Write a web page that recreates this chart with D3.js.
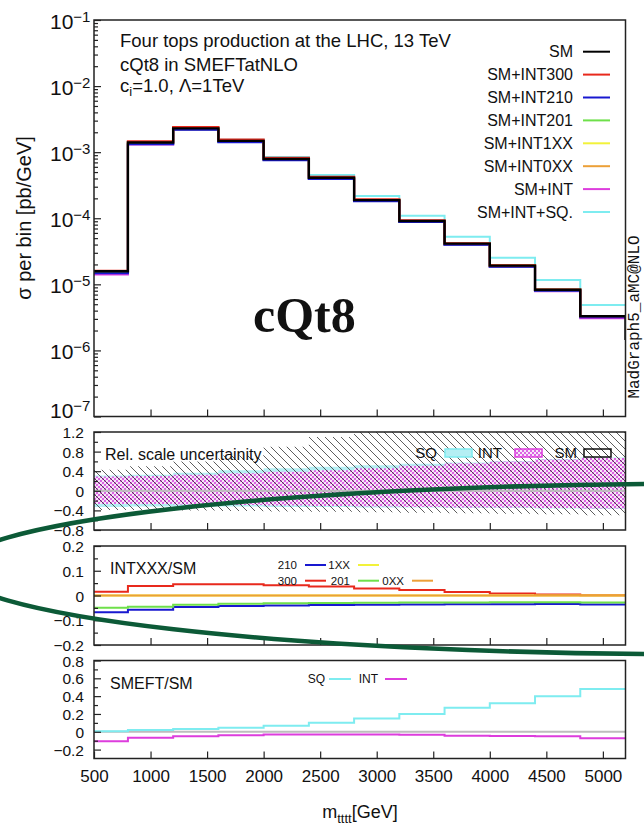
<!DOCTYPE html>
<html><head><meta charset="utf-8">
<script src="https://cdn.jsdelivr.net/npm/d3@7"></script>
<style>
body{margin:0;background:#fff}
svg{display:block}
text{font-family:"Liberation Sans",Arial,Helvetica,sans-serif;fill:#111}
</style>
</head><body>
<svg id="c" width="644" height="830"></svg>
<script>
// ---------------- data ----------------
const binEdges = [500,800,1200,1600,2000,2400,2800,3200,3600,4000,4400,4800,5200];
const smXsec   = [1.58e-5,1.40e-3,2.29e-3,1.48e-3,7.9e-4,4.1e-4,1.88e-4,9.1e-5,4.13e-5,1.92e-5,8.3e-6,3.3e-6];
const smOverflowEdge = 5600, smOverflow = 1.5e-6;
// INTXXX / SM
const int300 = [0.015,0.038,0.045,0.045,0.041,0.036,0.028,0.022,0.014,0.008,0.004,0.001];
const int210 = [-0.068,-0.058,-0.046,-0.042,-0.040,-0.038,-0.037,-0.036,-0.035,-0.035,-0.034,-0.036];
const int201 = [-0.049,-0.045,-0.037,-0.033,-0.031,-0.030,-0.029,-0.028,-0.028,-0.027,-0.027,-0.028];
const int1XX = [0,0,0,0,0,0,0,0,0,0,0,0];
const int0XX = [0,0,0,0,0,0,0,0,0,0,0,0];
// SMEFT / SM
const intAll = [-0.105,-0.067,-0.050,-0.040,-0.032,-0.030,-0.031,-0.033,-0.045,-0.047,-0.050,-0.072];
const sqAll  = [0.005,0.020,0.030,0.045,0.067,0.100,0.150,0.200,0.270,0.320,0.400,0.480];
// relative scale uncertainty bands
const smBandUp  = [0.43,0.50,0.60,0.72,0.90,1.10,1.25,1.35,1.45,1.50,1.55,1.60];
const smBandDn  = [-0.39,-0.39,-0.40,-0.41,-0.42,-0.43,-0.44,-0.45,-0.46,-0.47,-0.48,-0.50];
const intBandUp = [0.29,0.30,0.33,0.36,0.39,0.42,0.46,0.51,0.56,0.60,0.64,0.67];
const intBandDn = [-0.27,-0.27,-0.28,-0.29,-0.30,-0.31,-0.32,-0.33,-0.34,-0.34,-0.35,-0.36];
const sqBandUp  = [0.31,0.33,0.37,0.42,0.46,0.49,0.52,0.55,0.58,0.61,0.65,0.68];
const sqBandDn  = [-0.33,-0.32,-0.32,-0.32,-0.33,-0.33,-0.34,-0.34,-0.35,-0.35,-0.36,-0.37];
// ticks / labels
const xTickLabels = [500,1000,1500,2000,2500,3000,3500,4000,4500,5000];
const logTickExp = [-1,-2,-3,-4,-5,-6,-7];
const relTicks = [1.2,0.8,0.4,0,-0.4,-0.8];
const intTicks = [0.2,0.1,0,-0.1,-0.2];
const smeftTicks = [0.8,0.6,0.4,0.2,0,-0.2];
const topLegend = ["SM","SM+INT300","SM+INT210","SM+INT201","SM+INT1XX","SM+INT0XX","SM+INT","SM+INT+SQ."];

const C = {sm:"#000000", r300:"#e8291c", b210:"#1818d0", g201:"#6ee04a", y1xx:"#f2f23a",
           o0xx:"#eca038", mag:"#dd3ddd", cyan:"#7eecf0", cyanFill:"#b4eff4", gray:"#bdbdbd"};

// ---------------- setup ----------------
const svg = d3.select("#c");
const X0 = 94, X1 = 625.5;
const x = d3.scaleLinear().domain([500,5200]).range([X0,X1]);
const P = {
  p1:{top:20, bot:416.5},
  p2:{top:432, bot:530},
  p3:{top:546, bot:645},
  p4:{top:660.5, bot:758.5}
};
const yLog = d3.scaleLog().domain([1e-7,1e-1]).range([P.p1.bot,P.p1.top]);
const yRel = d3.scaleLinear().domain([-0.8,1.2]).range([P.p2.bot,P.p2.top]);
const yInt = d3.scaleLinear().domain([-0.2,0.2]).range([P.p3.bot,P.p3.top]);
const ySm  = d3.scaleLinear().domain([-0.3,0.8]).range([P.p4.bot,P.p4.top]);

const defs = svg.append("defs");
Object.entries(P).forEach(([k,p])=>{
  defs.append("clipPath").attr("id","clip-"+k).append("rect")
    .attr("x",X0).attr("y",p.top).attr("width",X1-X0).attr("height",p.bot-p.top);
});
// patterns
const hatch = defs.append("pattern").attr("id","hatch").attr("patternUnits","userSpaceOnUse")
  .attr("width",8).attr("height",8);
hatch.append("path").attr("d","M0,0L8,8M-1,7L1,9M7,-1L9,1").attr("stroke","#333").attr("stroke-width",0.8);
const checker = defs.append("pattern").attr("id","checker").attr("patternUnits","userSpaceOnUse")
  .attr("width",4).attr("height",4);
checker.append("rect").attr("width",4).attr("height",4).attr("fill","#f7e6f8");
checker.append("rect").attr("width",2).attr("height",2).attr("fill","#dc64e4");
checker.append("rect").attr("x",2).attr("y",2).attr("width",2).attr("height",2).attr("fill","#dc64e4");

function stepPts(vals, edges){
  const pts=[];
  vals.forEach((v,i)=>{pts.push([edges[i],v]);pts.push([edges[i+1],v]);});
  return pts;
}
function stepLine(g, vals, ys, color, w, edges){
  g.append("path").datum(stepPts(vals, edges||binEdges))
    .attr("fill","none").attr("stroke",color).attr("stroke-width",w)
    .attr("d", d3.line().x(d=>x(d[0])).y(d=>ys(d[1])));
}
function stepBand(g, up, dn, ys, fill){
  const up2 = stepPts(up,binEdges), dn2 = stepPts(dn,binEdges);
  g.append("path").datum(up2.map((d,i)=>[d[0],d[1],dn2[i][1]]))
    .attr("fill",fill).attr("stroke","none")
    .attr("d", d3.area().x(d=>x(d[0])).y0(d=>ys(d[2])).y1(d=>ys(d[1])));
}
const fmt = d => d<0 ? "\u2212"+String(Math.abs(d)) : String(d);

// ---------------- panel 1 ----------------
const g1 = svg.append("g").attr("clip-path","url(#clip-p1)");
const series = [
  [sqAll, C.cyan, 2],
  [intAll, C.mag, 2],
  [int0XX, C.o0xx, 2],
  [int1XX, C.y1xx, 2],
  [int201, C.g201, 2],
  [int210, C.b210, 2.2],
  [int300, C.r300, 2.2]
];
series.forEach(([r,c,w])=>{
  stepLine(g1, smXsec.map((v,i)=>v*(1+r[i])), yLog, c, w);
});
stepLine(g1, smXsec.concat([smOverflow]), yLog, C.sm, 2.4, binEdges.concat([smOverflowEdge]));

// ---------------- panel 2 ----------------
const g2 = svg.append("g").attr("clip-path","url(#clip-p2)");
stepBand(g2, sqBandUp, sqBandDn, yRel, C.cyanFill);
stepBand(g2, intBandUp, intBandDn, yRel, "url(#checker)");
stepBand(g2, smBandUp, smBandDn, yRel, "url(#hatch)");
g2.append("line").attr("x1",X0).attr("x2",X1).attr("y1",yRel(0)).attr("y2",yRel(0))
  .attr("stroke",C.gray).attr("stroke-width",2);

// ---------------- panel 3 ----------------
const g3 = svg.append("g").attr("clip-path","url(#clip-p3)");
[[int210,C.b210],[int300,C.r300],[int201,C.g201],[int1XX,C.y1xx],[int0XX,C.o0xx]]
  .forEach(([r,c])=>stepLine(g3, r, yInt, c, 2));

// ---------------- panel 4 ----------------
const g4 = svg.append("g").attr("clip-path","url(#clip-p4)");
g4.append("line").attr("x1",X0).attr("x2",X1).attr("y1",ySm(0)).attr("y2",ySm(0))
  .attr("stroke",C.gray).attr("stroke-width",2);
stepLine(g4, sqAll, ySm, C.cyan, 2);
stepLine(g4, intAll, ySm, C.mag, 2);

// ---------------- axes ----------------
function styleAxis(g){
  g.select(".domain").remove();
  g.selectAll(".tick line").attr("stroke","#222").attr("stroke-width",1.2);
  g.selectAll(".tick text").attr("fill","#111").style("font-family",'"Liberation Sans",Arial,sans-serif');
}
["p1","p2","p3"].forEach(k=>{
  svg.append("g").attr("transform",`translate(0,${P[k].bot})`)
    .call(d3.axisBottom(x).tickValues(xTickLabels.slice(1)).tickSize(-7).tickFormat(""))
    .call(styleAxis);
});
svg.append("g").attr("transform",`translate(0,${P.p4.bot})`)
  .call(d3.axisBottom(x).tickValues(xTickLabels).tickSize(-7).tickPadding(11).tickFormat(d=>String(d)))
  .call(styleAxis)
  .call(g=>g.selectAll(".tick text").style("font-size","17px"));

// log y axis
const logTicks = logTickExp.map(e=>Math.pow(10,e));
const minorLog = [];
for(let e=-7;e<-1;e++) for(let m=2;m<=9;m++) minorLog.push(m*Math.pow(10,e));
svg.append("g").attr("transform",`translate(${X0},0)`)
  .call(d3.axisLeft(yLog).tickValues(minorLog).tickSize(-4).tickFormat(""))
  .call(styleAxis);
svg.append("g").attr("transform",`translate(${X0},0)`)
  .call(d3.axisLeft(yLog).tickValues(logTicks).tickSize(-7).tickFormat(""))
  .call(styleAxis)
  .call(g=>{
    g.selectAll(".tick text").remove();
    g.selectAll(".tick").each(function(d){
      const e = Math.round(Math.log10(d));
      const t = d3.select(this).append("text").attr("x",50-X0).attr("y", e===-7 ? 1 : 8.5)
        .attr("text-anchor","start").attr("fill","#111").style("font-size","21px");
      t.append("tspan").text("10");
      t.append("tspan").attr("dy",-7).style("font-size","15px").text("\u2212"+String(-e));
    });
  });

function linAxis(ys, major, minor){
  svg.append("g").attr("transform",`translate(${X0},0)`)
    .call(d3.axisLeft(ys).tickValues(minor).tickSize(-4).tickFormat(""))
    .call(styleAxis);
  svg.append("g").attr("transform",`translate(${X0},0)`)
    .call(d3.axisLeft(ys).tickValues(major).tickSize(-7).tickPadding(10).tickFormat(fmt))
    .call(styleAxis)
    .call(g=>g.selectAll(".tick text").style("font-size","15.5px").attr("dy","0.36em"));
}
linAxis(yRel, relTicks, [1.0,0.6,0.2,-0.2,-0.6]);
linAxis(yInt, intTicks, [0.15,0.05,-0.05,-0.15]);
linAxis(ySm, smeftTicks, [0.7,0.5,0.3,0.1,-0.1]);

// frames
Object.values(P).forEach(p=>{
  svg.append("rect").attr("x",X0).attr("y",p.top).attr("width",X1-X0).attr("height",p.bot-p.top)
    .attr("fill","none").attr("stroke","#222").attr("stroke-width",1.5);
});

// ---------------- texts ----------------
const t1 = svg.append("g").style("font-size","18.5px");
t1.append("text").attr("x",120).attr("y",46.5).text("Four tops production at the LHC, 13 TeV");
t1.append("text").attr("x",120).attr("y",70.5).text("cQt8 in SMEFTatNLO");
const t3 = t1.append("text").attr("x",120).attr("y",92);
t3.append("tspan").text("c");
t3.append("tspan").attr("dy",4).style("font-size","13px").text("i");
t3.append("tspan").attr("dy",-4).text("=1.0, \u039B=1TeV");

// top legend
const legColors = [C.sm,C.r300,C.b210,C.g201,C.y1xx,C.o0xx,C.mag,C.cyan];
topLegend.forEach((s,i)=>{
  const yy = 51.7 + 22.9*i;
  svg.append("text").attr("x",573).attr("y",yy).attr("dy","0.36em").attr("text-anchor","end")
    .style("font-size","16px").text(s);
  svg.append("line").attr("x1",583).attr("x2",610).attr("y1",yy).attr("y2",yy)
    .attr("stroke",legColors[i]).attr("stroke-width",2);
});

// big label
svg.append("text").attr("x",253).attr("y",332)
  .style("font-family",'"Liberation Serif","Times New Roman",serif').style("font-weight","bold")
  .style("font-size","50px").attr("fill","#000").text("cQt8");

// MadGraph label
svg.append("text").attr("transform","translate(639,317) rotate(-90)").attr("text-anchor","middle")
  .style("font-family",'"Liberation Mono","DejaVu Sans Mono",monospace').style("font-size","16px")
  .attr("fill","#333").text("MadGraph5_aMC@NLO");

// y title
svg.append("text").attr("transform","translate(31,218) rotate(-90)").attr("text-anchor","middle")
  .style("font-size","20px").text("\u03C3 per bin [pb/GeV]");

// x title
const xt = svg.append("text").attr("x",360).attr("y",818).attr("text-anchor","middle").style("font-size","18px");
xt.append("tspan").text("m");
xt.append("tspan").attr("dy",5).style("font-size","13px").text("tttt");
xt.append("tspan").attr("dy",-5).text("[GeV]");

// panel 2 texts + legend
svg.append("text").attr("x",105).attr("y",460).style("font-size","16px").text("Rel. scale uncertainity");
[["SQ",437,445,C.cyanFill,C.cyan],["INT",502,515,"url(#checker)",C.mag],["SM",577,584,"url(#hatch)","#111"]]
  .forEach(([s,tx,rx,f,st])=>{
    svg.append("text").attr("x",tx).attr("y",458).attr("text-anchor","end").style("font-size","15px").text(s);
    svg.append("rect").attr("x",rx).attr("y",449).attr("width",27).attr("height",8)
      .attr("fill",f).attr("stroke",st).attr("stroke-width",1.5);
  });

// panel 3 texts + legend
svg.append("text").attr("x",110).attr("y",573.5).style("font-size","16px").text("INTXXX/SM");
[["210",297,305,569.3,C.b210],["1XX",350,358,569.3,C.y1xx],
 ["300",297,305,585,C.r300],["201",350,358,585,C.g201],["0XX",404,412,585,C.o0xx]]
  .forEach(([s,tx,lx,by,c])=>{
    svg.append("text").attr("x",tx).attr("y",by).attr("text-anchor","end").style("font-size","11.5px").text(s);
    svg.append("line").attr("x1",lx).attr("x2",lx+21).attr("y1",by-4.3).attr("y2",by-4.3)
      .attr("stroke",c).attr("stroke-width",2);
  });

// panel 4 texts + legend
svg.append("text").attr("x",110).attr("y",688.5).style("font-size","16px").text("SMEFT/SM");
[["SQ",325,329,C.cyan],["INT",378,385,C.mag]].forEach(([s,tx,lx,c])=>{
  svg.append("text").attr("x",tx).attr("y",683.3).attr("text-anchor","end").style("font-size","12px").text(s);
  svg.append("line").attr("x1",lx).attr("x2",lx+22).attr("y1",679).attr("y2",679)
    .attr("stroke",c).attr("stroke-width",2);
});

// annotation ellipse (hand-drawn overlay)
svg.append("ellipse").attr("cx",701.6).attr("cy",569).attr("rx",746.6).attr("ry",85.3)
  .attr("fill","none").attr("stroke","#0c5a37").attr("stroke-width",4.6);
</script>
</body></html>
